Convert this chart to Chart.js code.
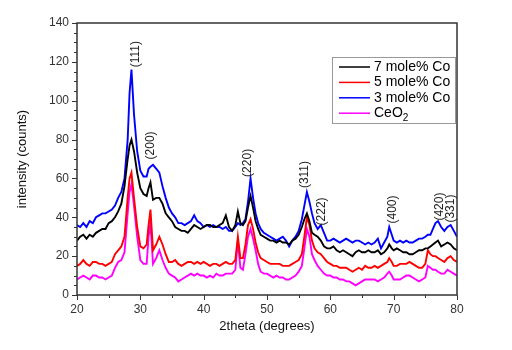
<!DOCTYPE html>
<html>
<head>
<meta charset="utf-8">
<script src="https://cdn.jsdelivr.net/npm/chart.js@4.4.0/dist/chart.umd.min.js"></script>
<style>
    html, body { margin: 0; padding: 0; background: #fff; }
</style>
</head>
<body>
<canvas id="myChart" width="512" height="350"></canvas>
<script>
// 2theta positions (degrees)
const angles = [
    20, 20.5, 21, 21.5, 22, 22.5, 23, 23.5, 24, 24.5, 25, 25.5, 26, 26.5, 27, 27.5, 28,
    28.3, 28.6, 29, 29.5, 30, 30.5, 31, 31.3, 31.6, 32, 32.5, 33, 33.5, 34, 34.5, 35, 35.5,
    36, 36.5, 37, 37.5, 38, 38.5, 39, 39.5, 40, 40.5, 41, 41.5, 42, 42.5, 43, 43.5, 44, 44.5, 45,
    45.4, 45.8, 46.2, 46.6, 47, 47.4, 47.8, 48.2, 48.6, 49, 49.5, 50, 50.5,
    51, 51.5, 52, 52.5, 53, 53.5, 54, 54.5, 55, 55.5, 55.9, 56.3, 56.7, 57.1, 57.5, 58, 58.5,
    59, 59.5, 60, 60.5, 61, 61.5, 62, 62.5, 63, 63.5, 64, 64.5, 65, 65.5, 66, 66.5, 67, 67.5, 68, 68.5,
    69, 69.3, 69.7, 70, 70.5, 71, 71.5, 72, 72.5, 73, 73.5, 74, 74.5, 75, 75.4, 75.8, 76.2, 76.6, 77, 77.5, 78, 78.5, 79, 79.5, 80
];

const co7 = [
    28, 30, 31, 29, 31, 30, 32, 33, 34, 34, 37, 38, 40, 43, 47, 56, 70,
    77, 80, 74, 63, 55, 52, 51, 55, 58, 49, 50, 50, 47, 42, 40, 38, 35,
    34, 33, 33, 32, 34, 36, 35, 34, 35, 36, 36, 35, 35, 36, 37, 41, 35, 33, 36,
    43, 37, 36, 38, 45, 51, 45, 38, 34, 31, 30, 29, 28,
    28, 27, 28, 27, 27, 26, 28, 29, 31, 35, 39, 42, 38, 32, 31, 30, 28,
    25, 24, 24, 25, 23, 22, 23, 22, 21, 20, 22, 23, 22, 22, 23, 22, 22, 23, 21, 22,
    24, 26, 24, 23, 24, 23, 22, 22, 21, 21, 22, 23, 23, 24, 24, 25, 26, 27, 28, 25, 26, 27, 26, 24, 23
];

const co5 = [
    15, 16, 18, 16, 15, 17, 17, 16, 16, 15, 16, 17, 21, 23, 25, 30, 50,
    60, 63, 50, 35, 25, 24, 26, 36, 44, 23, 26, 30, 26, 21, 17, 17, 18,
    16, 15, 16, 17, 17, 16, 17, 16, 17, 16, 15, 16, 16, 15, 16, 17, 16, 16, 18,
    30, 19, 19, 26, 36, 39, 34, 27, 22, 19, 18, 17, 16,
    16, 16, 16, 15, 15, 15, 16, 17, 18, 21, 30, 40, 36, 28, 24, 22, 21,
    19, 17, 16, 15, 15, 14, 14, 14, 13, 12, 13, 14, 13, 15, 14, 14, 15, 14, 15, 16,
    17, 19, 17, 15, 15, 16, 16, 16, 17, 16, 15, 14, 14, 16, 23, 21, 20, 20, 19, 18, 17, 19, 20, 18, 17
];

const co3 = [
    36, 35, 37, 35, 38, 37, 40, 41, 42, 42, 43, 44, 46, 50, 53, 60, 80,
    104, 116, 93, 74, 64, 61, 61, 65, 66, 67, 65, 63, 56, 50, 45, 42, 40,
    37, 37, 36, 37, 38, 41, 38, 37, 35, 36, 35, 36, 35, 35, 34, 35, 33, 33, 35,
    37, 36, 37, 39, 48, 60, 50, 42, 37, 34, 32, 31, 30,
    29, 28, 29, 30, 28, 25, 28, 30, 33, 39, 46, 53, 48, 42, 37, 34, 36,
    32, 28, 28, 29, 28, 27, 28, 29, 28, 27, 28, 28, 27, 26, 27, 26, 27, 29, 24, 27,
    30, 35, 31, 28, 27, 28, 27, 28, 27, 27, 28, 29, 29, 30, 31, 31, 34, 37, 38, 35, 33, 35, 36, 33, 30
];

const ceo2 = [
    8, 9, 10, 9, 8, 10, 10, 9, 9, 8, 9, 10, 14, 17, 18, 22, 42,
    53, 57, 46, 30, 18, 16, 16, 30, 37, 16, 19, 23, 18, 14, 11, 10, 9,
    7, 8, 9, 10, 11, 10, 11, 10, 10, 9, 10, 9, 11, 10, 10, 11, 11, 11, 13,
    28, 14, 13, 21, 30, 34, 29, 23, 16, 12, 11, 11, 10,
    9, 10, 9, 9, 8, 8, 9, 10, 12, 15, 24, 34, 30, 21, 18, 15, 13,
    11, 10, 10, 9, 9, 8, 8, 7, 7, 6, 5, 6, 7, 8, 8, 8, 8, 7, 8, 9,
    11, 12, 10, 8, 8, 8, 9, 10, 10, 9, 8, 7, 8, 9, 15, 14, 13, 13, 12, 11, 11, 13, 12, 11, 10
];

const seriesNames = ['7 mole% Co', '5 mole% Co', '3 mole% Co', 'CeO₂'];
const seriesColors = ['#000000', '#ff0000', '#0000ff', '#ff00ff'];

// hkl labels, placed at (2theta, intensity) of the text centre
const peakLabels = ['(111)', '(200)', '(220)', '(311)', '(222)', '(400)', '(420)', '(331)'];
const peakAngles = [29.3, 31.6, 47.0, 56.0, 58.6, 69.9, 77.3, 79.0];
const peakHeights = [124, 77, 68, 62, 43, 44, 45.5, 44.5];

const xTicks = [20, 30, 40, 50, 60, 70, 80];
const yTicks = [0, 20, 40, 60, 80, 100, 120, 140];

const FONT = 'Arial, "Liberation Sans", sans-serif';

function toPoints(vals) {
    return angles.map((a, i) => ({x: a, y: vals[i]}));
}

// frame, outward ticks, hkl labels and boxed legend
const decorations = {
    id: 'decorations',
    afterDatasetsDraw(chart) {
        const {ctx, chartArea: a, scales: {x, y}} = chart;
        ctx.save();
        ctx.strokeStyle = '#333';
        ctx.lineWidth = 1.5;
        ctx.strokeRect(a.left, a.top, a.right - a.left, a.bottom - a.top);

        ctx.lineWidth = 1;
        ctx.beginPath();
        for (let v = 20; v <= 80; v += 5) {
            const px = Math.round(x.getPixelForValue(v)) + 0.5;
            const len = xTicks.includes(v) ? 5 : 3;
            ctx.moveTo(px, a.bottom);
            ctx.lineTo(px, a.bottom + len);
        }
        for (let v = 0; v <= 140; v += 5) {
            const py = Math.round(y.getPixelForValue(v)) + 0.5;
            const len = yTicks.includes(v) ? 5 : 3;
            ctx.moveTo(a.left, py);
            ctx.lineTo(a.left - len, py);
        }
        ctx.stroke();

        // peak labels
        ctx.fillStyle = '#222';
        ctx.font = '12px ' + FONT;
        ctx.textAlign = 'center';
        ctx.textBaseline = 'middle';
        peakLabels.forEach((t, i) => {
            ctx.save();
            ctx.translate(x.getPixelForValue(peakAngles[i]), y.getPixelForValue(peakHeights[i]));
            ctx.rotate(-Math.PI / 2);
            ctx.fillText(t, 0, 0);
            ctx.restore();
        });

        // legend
        const left = a.right - 125, top = a.top + 34, w = 123, h = 66;
        ctx.fillStyle = '#fff';
        ctx.fillRect(left, top, w, h);
        ctx.strokeStyle = '#999';
        ctx.lineWidth = 1;
        ctx.strokeRect(left + 0.5, top + 0.5, w, h);
        ctx.font = '14px ' + FONT;
        ctx.textAlign = 'left';
        chart.data.datasets.forEach((ds, i) => {
            const yy = top + 10 + i * 15.4;
            ctx.strokeStyle = ds.borderColor;
            ctx.lineWidth = 1.5;
            ctx.beginPath();
            ctx.moveTo(left + 7, yy);
            ctx.lineTo(left + 38, yy);
            ctx.stroke();
            ctx.fillStyle = '#000';
            const label = ds.label;
            if (label.endsWith('₂')) {
                const base = label.slice(0, -1);
                ctx.fillText(base, left + 42, yy);
                const bw = ctx.measureText(base).width;
                ctx.font = '10px ' + FONT;
                ctx.fillText('2', left + 42 + bw, yy + 5);
                ctx.font = '14px ' + FONT;
            } else {
                ctx.fillText(label, left + 42, yy);
            }
        });
        ctx.restore();
    }
};

const ctx = document.getElementById('myChart');

const myChart = new Chart(ctx, {
    type: 'line',
    data: {
        datasets: [co7, co5, co3, ceo2].map((vals, i) => ({
            label: seriesNames[i],
            data: toPoints(vals),
            borderColor: seriesColors[i],
            borderWidth: 1.9,
            pointRadius: 0,
            tension: 0,
            fill: false
        }))
    },
    options: {
        responsive: false,
        animation: false,
        events: [],
        layout: {
            padding: {top: 23, right: 55, left: 0, bottom: 0}
        },
        plugins: {
            legend: {display: false},
            tooltip: {enabled: false}
        },
        scales: {
            x: {
                type: 'linear',
                min: 20,
                max: 80,
                afterFit: (s) => { s.height = 55; },
                afterBuildTicks: (s) => { s.ticks = xTicks.map(v => ({value: v})); },
                grid: {display: false, drawTicks: false},
                border: {display: false},
                ticks: {
                    padding: 7,
                    color: '#333',
                    font: {family: FONT, size: 12}
                },
                title: {
                    display: true,
                    text: '2theta (degrees)',
                    color: '#111',
                    padding: {top: 0, bottom: 16},
                    font: {family: FONT, size: 13}
                }
            },
            y: {
                min: 0,
                max: 140,
                afterFit: (s) => { s.width = 77; },
                afterBuildTicks: (s) => { s.ticks = yTicks.map(v => ({value: v})); },
                grid: {display: false, drawTicks: false},
                border: {display: false},
                ticks: {
                    padding: 8,
                    color: '#333',
                    font: {family: FONT, size: 12}
                },
                title: {
                    display: true,
                    text: 'intensity (counts)',
                    color: '#111',
                    padding: {top: 15, bottom: 0},
                    font: {family: FONT, size: 13}
                }
            }
        }
    },
    plugins: [decorations]
});
</script>
</body>
</html>
